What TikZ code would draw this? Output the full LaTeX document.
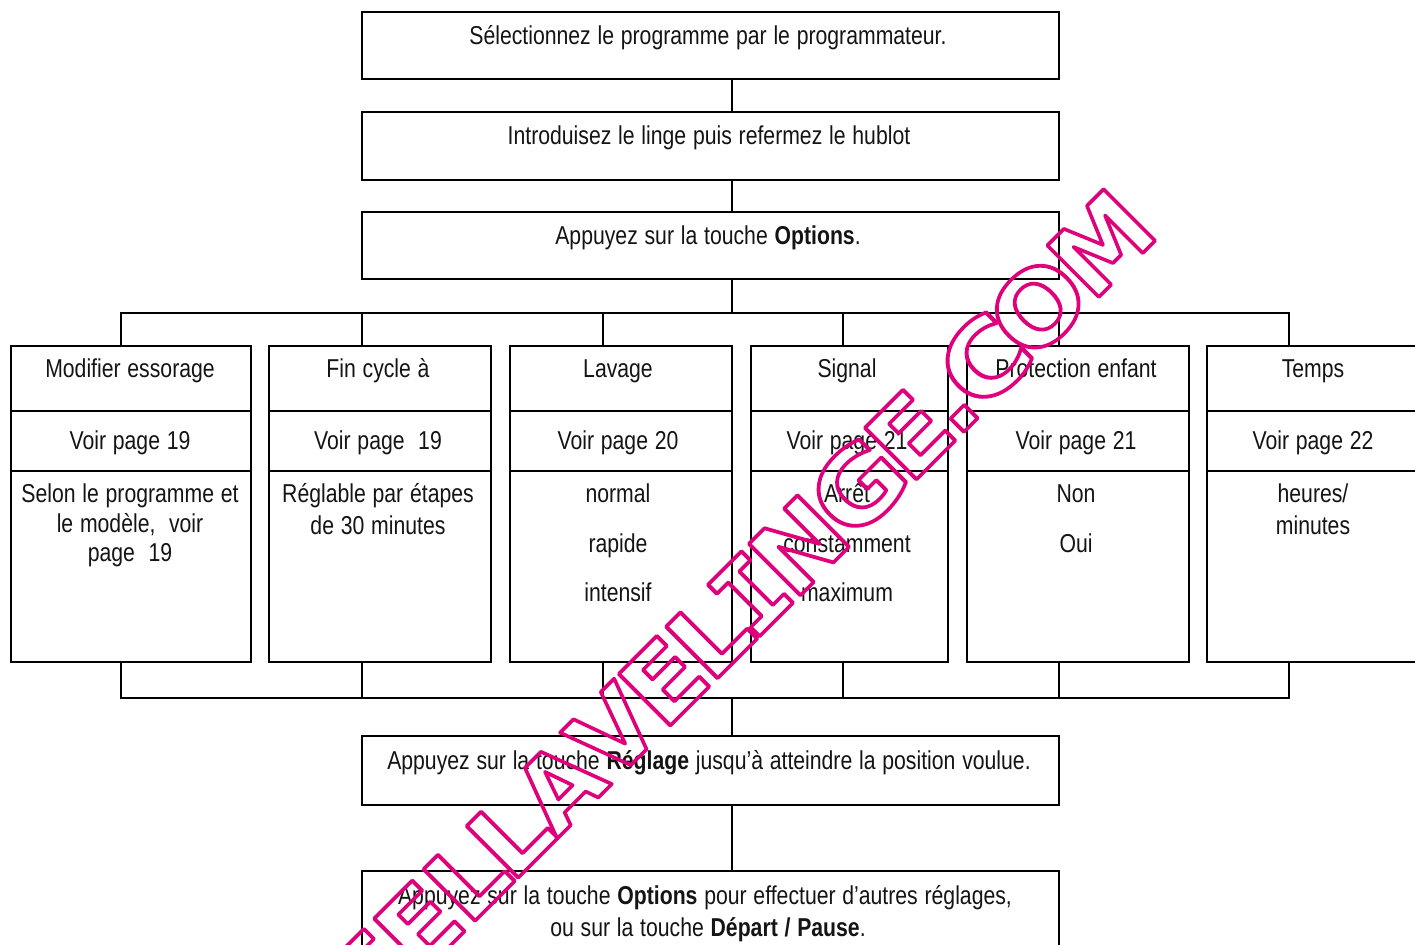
\documentclass[tikz,border=0pt]{standalone}
\usepackage{fontspec}
\setmainfont[FakeStretch=0.82,WordSpace=1.15]{Liberation Sans}
\newfontfamily\wmfont{DejaVu Sans}
\newfontfamily\wmifont{DejaVu Sans Mono}
\definecolor{wmcol}{HTML}{DF007C}
\tikzset{
  x=0.75pt,y=-0.75pt,
  boxline/.style={draw=black,line width=1.6pt,line join=miter,sharp corners,inner sep=0pt,outer sep=0pt,anchor=north west},
  conn/.style={draw=black,line width=1.6pt,line cap=rect},
  lbl/.style={anchor=base,inner sep=0pt,outer sep=0pt,font=\fontsize{19.4pt}{21pt}\selectfont,text=black!92},
  wm/.style={anchor=base west,inner sep=0pt,outer sep=0pt,rotate=45,text=wmcol,font=\fontsize{75pt}{76pt}\selectfont\wmfont\bfseries}
}
\newcommand{\mkbox}[5]{\node[boxline,minimum width=#4*0.75pt,minimum height=#5*0.75pt] (#1) at (#2,#3) {};}
% watermark letter: name, distance along the slanted baseline, x-scale, glyph
\newcommand{\wl}[4]{\node[wm,xscale=#3] (#1) at ({(#2+987)*0.7071},{(987-(#2))*0.7071}) {\special{pdf:code 1 Tr 2.7 w 1 j}#4\special{pdf:code 0 Tr 1 w 0 j}};}
\begin{document}
\begin{tikzpicture}
\clip (0,0) rectangle (1415,945);
\fill[white] (0,0) rectangle (1415,945);
% guide coordinates
\coordinate (axis) at (732,0);
\coordinate (d1) at (121,0);
\coordinate (d2) at (362,0);
\coordinate (d3) at (603,0);
\coordinate (d4) at (843,0);
\coordinate (d5) at (1059,0);
\coordinate (d6) at (1289,0);
\coordinate (bustop) at (0,313);
\coordinate (busbot) at (0,698);
% main boxes
\mkbox{b1}{362}{12}{697}{67}
\mkbox{b2}{362}{112}{697}{68}
\mkbox{b3}{362}{212}{697}{67}
\mkbox{b4}{362}{736}{697}{69}
\mkbox{b5}{362}{871}{697}{130}
% columns
\mkbox{c1a}{11}{346}{240}{65}
\mkbox{c1b}{11}{411}{240}{60}
\mkbox{c1c}{11}{471}{240}{191}
\mkbox{c2a}{269}{346}{222}{65}
\mkbox{c2b}{269}{411}{222}{60}
\mkbox{c2c}{269}{471}{222}{191}
\mkbox{c3a}{510}{346}{222}{65}
\mkbox{c3b}{510}{411}{222}{60}
\mkbox{c3c}{510}{471}{222}{191}
\mkbox{c4a}{751}{346}{197}{65}
\mkbox{c4b}{751}{411}{197}{60}
\mkbox{c4c}{751}{471}{197}{191}
\mkbox{c5a}{967}{346}{222}{65}
\mkbox{c5b}{967}{411}{222}{60}
\mkbox{c5c}{967}{471}{222}{191}
\mkbox{c6a}{1207}{346}{230}{65}
\mkbox{c6b}{1207}{411}{230}{60}
\mkbox{c6c}{1207}{471}{230}{191}
% connectors
\draw[conn] (b1.south -| axis) -- (b2.north -| axis);
\draw[conn] (b2.south -| axis) -- (b3.north -| axis);
\draw[conn] (b3.south -| axis) -- (bustop -| axis);
\draw[conn] (bustop -| d1) -- (bustop -| d6);
\draw[conn] (busbot -| d1) -- (busbot -| d6);
\draw[conn] (bustop -| d1) -- (c1a.north -| d1);
\draw[conn] (bustop -| d2) -- (c2a.north -| d2);
\draw[conn] (bustop -| d3) -- (c3a.north -| d3);
\draw[conn] (bustop -| d4) -- (c4a.north -| d4);
\draw[conn] (bustop -| d5) -- (c5a.north -| d5);
\draw[conn] (bustop -| d6) -- (c6a.north -| d6);
\draw[conn] (c1c.south -| d1) -- (busbot -| d1);
\draw[conn] (c2c.south -| d2) -- (busbot -| d2);
\draw[conn] (c3c.south -| d3) -- (busbot -| d3);
\draw[conn] (c4c.south -| d4) -- (busbot -| d4);
\draw[conn] (c5c.south -| d5) -- (busbot -| d5);
\draw[conn] (c6c.south -| d6) -- (busbot -| d6);
\draw[conn] (busbot -| axis) -- (b4.north -| axis);
\draw[conn] (b4.south -| axis) -- (b5.north -| axis);
% texts
\node[lbl] (t1) at (708,45) {Sélectionnez le programme par le programmateur.};
\node[lbl] (t2) at (709,145) {Introduisez le linge puis refermez le hublot};
\node[lbl] (t3) at (708,245) {Appuyez sur la touche \textbf{Options}.};
\node[lbl] (t4) at (709,769) {Appuyez sur la touche \textbf{Réglage} jusqu’à atteindre la position voulue.};
\node[lbl] (t5) at (705,904) {Appuyez sur la touche \textbf{Options} pour effectuer d’autres réglages,};
\node[lbl] (t6) at (708,936) {ou sur la touche \textbf{Départ / Pause}.};
\node[lbl] (h1) at (130,377) {Modifier essorage};
\node[lbl] (h2) at (378,377) {Fin cycle à};
\node[lbl] (h3) at (618,377) {Lavage};
\node[lbl] (h4) at (847,377) {Signal};
\node[lbl] (h5) at (1076,377) {Protection enfant};
\node[lbl] (h6) at (1313,377) {Temps};
\node[lbl] (p1) at (130,449) {Voir page 19};
\node[lbl] (p2) at (378,449) {Voir page\ \ 19};
\node[lbl] (p3) at (618,449) {Voir page 20};
\node[lbl] (p4) at (847,449) {Voir page 21};
\node[lbl] (p5) at (1076,449) {Voir page 21};
\node[lbl] (p6) at (1313,449) {Voir page 22};
\node[lbl] (s1a) at (130,502) {Selon le programme et};
\node[lbl] (s1b) at (130,532) {le modèle,\ \ voir};
\node[lbl] (s1c) at (130,561) {page\ \ 19};
\node[lbl] (s2a) at (378,502) {Réglable par étapes};
\node[lbl] (s2b) at (378,534) {de 30 minutes};
\node[lbl] (s3a) at (618,502) {normal};
\node[lbl] (s3b) at (618,552) {rapide};
\node[lbl] (s3c) at (618,601) {intensif};
\node[lbl] (s4a) at (847,502) {Arrêt};
\node[lbl] (s4b) at (847,552) {constamment};
\node[lbl] (s4c) at (847,601) {maximum};
\node[lbl] (s5a) at (1076,502) {Non};
\node[lbl] (s5b) at (1076,552) {Oui};
\node[lbl] (s6a) at (1313,502) {heures/};
\node[lbl] (s6b) at (1313,534) {minutes};
% watermark
\wl{w0}{-463}{1.06}{E}
\wl{w1}{-394.7}{1.06}{E}
\wl{w2}{-325}{1.08}{L}
\wl{w3}{-264}{1.08}{L}
\wl{w4}{-199.5}{1.01}{A}
\wl{w5}{-122.5}{1.0}{V}
\wl{w6}{-48.7}{1.06}{E}
\wl{w7}{18}{1.08}{L}
\wl{w8}{78}{1.09}{\wmifont\bfseries I}
\wl{w9}{135.4}{1.05}{N}
\wl{w10}{217.5}{1.1}{G}
\wl{w11}{299.3}{1.06}{E}
\wl{w12}{365}{1.1}{.}
\wl{w13}{399.3}{1.15}{C}
\wl{w14}{470.6}{1.09}{O}
\wl{w15}{558}{0.98}{M}
\end{tikzpicture}
\end{document}
